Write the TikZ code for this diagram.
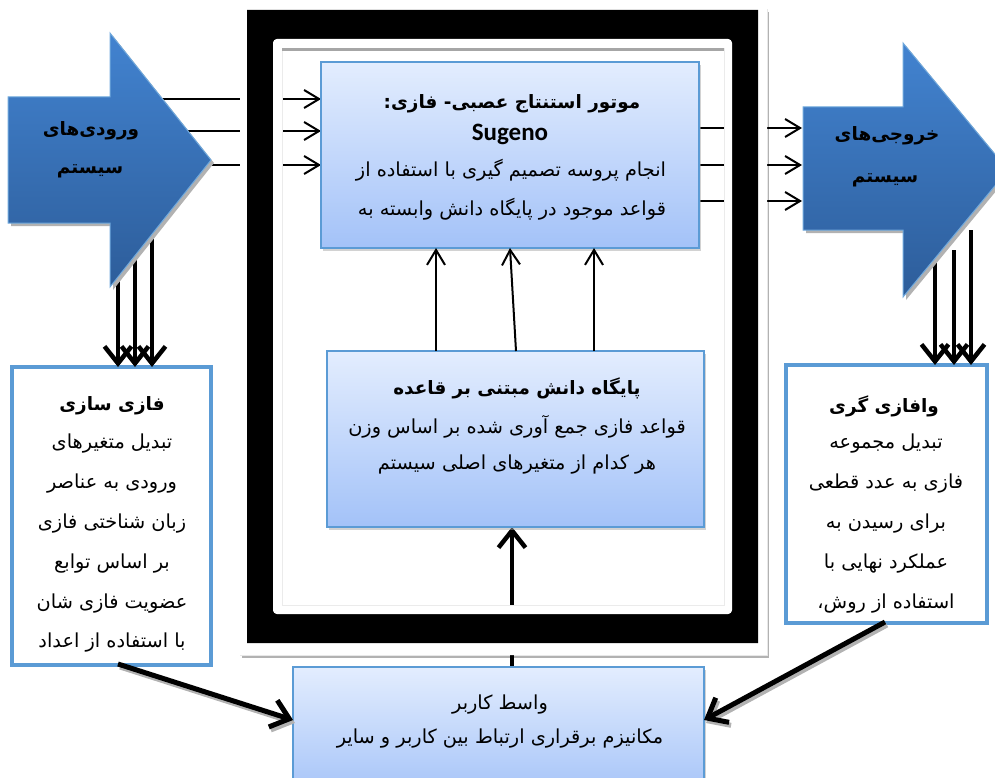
\documentclass[tikz,border=0pt]{standalone}
\usepackage{fontspec}
\newfontfamily\farsi[Script=Arabic]{DejaVu Sans}
\newfontfamily\latin{Carlito}
\TeXXeTstate=1
\usetikzlibrary{arrows.meta,shadows,calc}
\newcommand{\fa}[1]{\beginR #1\endR}
\definecolor{boxtop}{HTML}{E3EDFE}
\definecolor{boxbot}{HTML}{A3C2F8}
\definecolor{bordercol}{HTML}{5B9BD5}
\definecolor{arrtop}{HTML}{4283D0}
\definecolor{arrbot}{HTML}{2D5D9A}
\definecolor{arredge}{HTML}{6FA8DC}
\begin{document}
\begin{tikzpicture}[x=1pt,y=-1pt,
  every node/.style={inner sep=0pt, outer sep=0pt},
  txt/.style={font=\farsi\fontsize{19.3}{22}\selectfont, anchor=center},
  btxt/.style={font=\farsi\bfseries\fontsize{18.4}{22}\selectfont, anchor=center},
  gradbox/.style={rectangle, draw=bordercol, line width=1.5pt, top color=boxtop, bottom color=boxbot,
    drop shadow={shadow xshift=2pt, shadow yshift=-3pt, fill=black!35}},
  whitebox/.style={rectangle, draw=bordercol, line width=3.5pt, fill=white,
    drop shadow={shadow xshift=1pt, shadow yshift=-2pt, fill=black!25}},
  thinarr/.style={line width=2pt, -{Straight Barb[length=15pt,width=18pt]}},
  thickarr/.style={line width=4.5pt, -{Straight Barb[length=17pt,width=27pt]}},
  diagarr/.style={line width=5pt, -{Straight Barb[length=17pt,width=28pt]}},
  diagshadow/.style={line width=5pt, black!30, -{Straight Barb[length=17pt,width=28pt]}}]
\useasboundingbox (0,0) rectangle (995,778);

% ---------- main frame background ----------
\fill[black!30] (242,12) rectangle (769,658);
\filldraw[fill=white, draw=black!10] (240,9) rectangle (767,655);

% ---------- box positions (for connectors drawn under the frame) ----------
\path (510,155) node[minimum width=378pt, minimum height=186pt] (engpos) {};
\path (515.5,439) node[minimum width=377pt, minimum height=176pt] (kbpos) {};

% ---------- arrow coordinates ----------
\coordinate (in1) at (150,99);
\coordinate (in2) at (170,131);
\coordinate (in3) at (195,165);
\coordinate (out1) at (802,128);
\coordinate (out2) at (802,165);
\coordinate (out3) at (802,201);
\coordinate (uiup) at (512,667);

% connectors crossing the frame (frame drawn over them)
\draw[thinarr] (in1) -- (in1 -| engpos.west);
\draw[thinarr] (in2) -- (in2 -| engpos.west);
\draw[thinarr] (in3) -- (in3 -| engpos.west);
\draw[thinarr] (out1 -| engpos.east) -- (out1);
\draw[thinarr] (out2 -| engpos.east) -- (out2);
\draw[thinarr] (out3 -| engpos.east) -- (out3);
\draw[thickarr] (uiup) -- (uiup |- kbpos.south);

% ---------- frame rings ----------
\fill[white, even odd rule] (240,9) rectangle (767,655) (247,10) rectangle (758,643);
\fill[black, even odd rule] (247,10) rectangle (758,643) [rounded corners=4pt] (273,39) rectangle (732,614);
\fill[white, even odd rule, rounded corners=4pt] (273,39) rectangle (732,614) [sharp corners] (282,48) rectangle (724,605);
\draw[black!8] (282,48) rectangle (724,605);
\draw[line width=3pt, black!35] (282,49.5) -- (724,49.5);

% ---------- boxes ----------
\node[gradbox, minimum width=378pt, minimum height=186pt] (eng) at (510,155) {};
\node[gradbox, minimum width=377pt, minimum height=176pt] (kb) at (515.5,439) {};
\node[gradbox, minimum width=411pt, minimum height=133pt] (ui) at (498.5,733.5) {};
\node[whitebox, minimum width=199pt, minimum height=298pt] (fuzz) at (111.5,516) {};
\node[whitebox, minimum width=201pt, minimum height=258pt] (defuzz) at (886.5,494) {};

% ---------- down arrows (under the big arrows) ----------
\coordinate (dl1) at (118,262);
\coordinate (dl2) at (135,252);
\coordinate (dl3) at (152,230);
\coordinate (dr1) at (935,262);
\coordinate (dr2) at (954,250);
\coordinate (dr3) at (971,230);
\draw[thickarr] (dl1) -- (dl1 |- fuzz.north);
\draw[thickarr] (dl2) -- (dl2 |- fuzz.north);
\draw[thickarr] (dl3) -- (dl3 |- fuzz.north);
\draw[thickarr] (dr1) -- (dr1 |- defuzz.north);
\draw[thickarr] (dr2) -- (dr2 |- defuzz.north);
\draw[thickarr] (dr3) -- (dr3 |- defuzz.north);

% ---------- big block arrows ----------
\fill[black!30] (11,100) -- (113,100) -- (113,36) -- (214,163) -- (113,290) -- (113,226) -- (11,226) -- cycle;
\path[top color=arrtop, bottom color=arrbot, draw=arredge, line width=1pt]
  (8,97) -- (110,97) -- (110,33) -- (211,160) -- (110,287) -- (110,223) -- (8,223) -- cycle;
\fill[black!30] (806,110) -- (906,110) -- (906,46) -- (1011,173) -- (906,300) -- (906,233) -- (806,233) -- cycle;
\path[top color=arrtop, bottom color=arrbot, draw=arredge, line width=1pt]
  (803,107) -- (903,107) -- (903,43) -- (1008,170) -- (903,297) -- (903,230) -- (803,230) -- cycle;

\node[btxt] (inlab1) at (91,131) {\fa{ورودی^^^^200cهای}};
\node[btxt] (inlab2) at (90,171) {\fa{سیستم}};
\node[btxt] (outlab1) at (887,136) {\fa{خروجی^^^^200cهای}};
\node[btxt] (outlab2) at (885,180) {\fa{سیستم}};

% ---------- knowledge base to engine ----------
\coordinate (k1) at (436,351);
\coordinate (k2) at (516,351);
\coordinate (k3) at (594,351);
\draw[thinarr] (k1) -- (k1 |- eng.south);
\draw[thinarr] (k2) -- (eng.south);
\draw[thinarr] (k3) -- (k3 |- eng.south);

% ---------- diagonal arrows to user interface ----------
\coordinate (fzout) at (118,664);
\coordinate (dfout) at (885,622);
\draw[diagshadow] ($(fzout)+(2,3)$) -- ($([yshift=13.5pt]ui.west)+(2,3)$);
\draw[diagshadow] ($(dfout)+(2,3)$) -- ($([yshift=13.5pt]ui.east)+(2,3)$);
\draw[diagarr] (fzout) -- ([yshift=13.5pt]ui.west);
\draw[diagarr] (dfout) -- ([yshift=13.5pt]ui.east);

% ---------- texts ----------
\node[btxt] (e1) at (512,104) {\fa{موتور استنتاج عصبی- فازی:}};
\node[font=\latin\bfseries\fontsize{25}{28}\selectfont] (e2) at (510,134) {Sugeno};
\node[txt] (e3) at (511,170) {\fa{انجام پروسه تصمیم گیری با استفاده از}};
\node[txt] (e4) at (512,209) {\fa{قواعد موجود در پایگاه دانش وابسته به}};

\node[btxt] (k1t) at (517,388) {\fa{پایگاه دانش مبتنی بر قاعده}};
\node[txt] (k2t) at (517,427) {\fa{قواعد فازی جمع آوری شده بر اساس وزن}};
\node[txt] (k3t) at (517,465) {\fa{هر کدام از متغیرهای اصلی سیستم}};

\node[txt] (u1) at (500,705) {\fa{واسط کاربر}};
\node[txt] (u2) at (500,739) {\fa{مکانیزم برقراری ارتباط بین کاربر و سایر}};

\node[btxt] (f1) at (112,406) {\fa{فازی سازی}};
\node[txt] (f2) at (112,444) {\fa{تبدیل متغیرهای}};
\node[txt] (f3) at (112,484) {\fa{ورودی به عناصر}};
\node[txt] (f4) at (112,524) {\fa{زبان شناختی فازی}};
\node[txt] (f5) at (112,564) {\fa{بر اساس توابع}};
\node[txt] (f6) at (112,604) {\fa{عضویت فازی شان}};
\node[txt] (f7) at (112,643) {\fa{با استفاده از اعداد}};

\node[btxt] (d1) at (884,406) {\fa{وافازی گری}};
\node[txt] (d2) at (886,444) {\fa{تبدیل مجموعه}};
\node[txt] (d3) at (886,484) {\fa{فازی به عدد قطعی}};
\node[txt] (d4) at (886,524) {\fa{برای رسیدن به}};
\node[txt] (d5) at (886,564) {\fa{عملکرد نهایی با}};
\node[txt] (d6) at (886,604) {\fa{استفاده از روش،}};
\end{tikzpicture}
\end{document}
